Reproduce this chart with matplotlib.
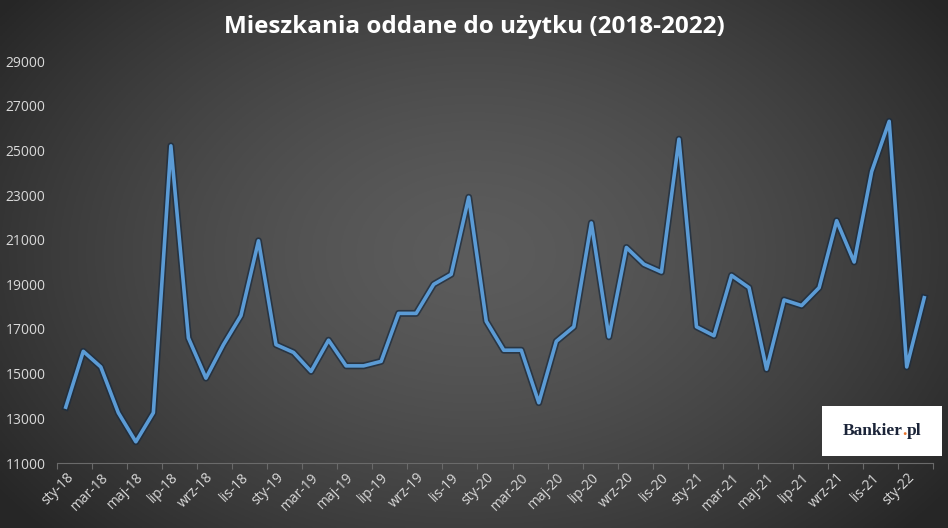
import numpy as np
import matplotlib
matplotlib.use('Agg')
import matplotlib.pyplot as plt
import matplotlib.patheffects as pe
from matplotlib.offsetbox import TextArea, HPacker, AnnotationBbox
from matplotlib.patches import Rectangle

# miesiace (sty-18 ... lut-22)
month_abbr = ['sty', 'lut', 'mar', 'kwi', 'maj', 'cze',
              'lip', 'sie', 'wrz', 'paź', 'lis', 'gru']
years = ['18', '19', '20', '21', '22']
months = [f'{m}-{y}' for y in years for m in month_abbr][:50]

# mieszkania oddane do uzytku
values = [13500, 16000, 15300, 13250, 11950, 13250, 25200, 16600, 14800, 16300,
          17600, 20950, 16300, 15950, 15100, 16500, 15350, 15350, 15550, 17700,
          17700, 19000, 19450, 22900, 17350, 16050, 16050, 13700, 16450, 17100,
          21750, 16650, 20650, 19900, 19550, 25500, 17100, 16700, 19400, 18850,
          15200, 18300, 18050, 18850, 21850, 20000, 24050, 26300, 15300, 18400]

yticks = [11000, 13000, 15000, 17000, 19000, 21000, 23000, 25000, 27000, 29000]

title = 'Mieszkania oddane do użytku (2018-2022)'

W, H = 948, 528
fig = plt.figure(figsize=(W / 100, H / 100), dpi=100)

# tlo - radialny gradient
bg = fig.add_axes([0, 0, 1, 1])
xx, yy = np.meshgrid(np.linspace(0, 1, 400), np.linspace(0, 1, 240))
r = np.sqrt(((xx - 0.5) / 0.62) ** 2 + ((yy - 0.52) / 0.78) ** 2)
g = 0.36 - 0.21 * np.clip(r, 0, 1) ** 1.5
bg.imshow(np.dstack([g, g, g]), extent=[0, 1, 0, 1], aspect='auto', origin='lower')
bg.axis('off')

ax = fig.add_axes([57 / W, 1 - 463 / H, (933 - 57) / W, (463 - 61) / H])
ax.patch.set_alpha(0)
x = np.arange(len(values))
ax.plot(x, values, color='#5b9bd5', lw=2.6, solid_joinstyle='round',
        path_effects=[pe.Stroke(linewidth=5, foreground='#1c2c3e', alpha=0.75,
                                joinstyle='round'),
                      pe.Normal()])

ax.set_xlim(-0.5, len(values) - 0.5)
ax.set_ylim(11000, 29000)

for s in ['top', 'right', 'left']:
    ax.spines[s].set_visible(False)
ax.spines['bottom'].set_color('#6a6a6a')
ax.spines['bottom'].set_linewidth(0.8)

ax.set_yticks(yticks)
ax.set_yticklabels([str(v) for v in yticks])
ax.tick_params(axis='y', length=0, pad=37, labelsize=10, labelcolor='#d9d9d9')
for lab in ax.get_yticklabels():
    lab.set_ha('left')
    lab.set_family('Open Sans')

ax.set_xticks(x[::2])
ax.set_xticklabels(months[::2])
ax.tick_params(axis='x', which='major', length=0, pad=5, labelsize=10,
               labelcolor='#d9d9d9')
ax.set_xticks(np.arange(-0.5, len(values), 2), minor=True)
ax.tick_params(axis='x', which='minor', length=4, color='#6a6a6a', width=0.8)
for lab in ax.get_xticklabels():
    lab.set_rotation(45)
    lab.set_ha('right')
    lab.set_va('top')
    lab.set_rotation_mode('anchor')
    lab.set_family('Open Sans')

fig.text(0.5, 1 - 27 / H, title, ha='center', va='center', color='white',
         fontsize=17.5, fontweight='bold', family='Open Sans')

# logo Bankier.pl
fig.patches.append(Rectangle((822 / W, 1 - 456 / H), 120 / W, 50 / H,
                             transform=fig.transFigure, facecolor='white',
                             edgecolor='none', zorder=5))
tp = dict(color='#1b2438', fontsize=12.5, fontweight='bold', family='Liberation Serif')
logo = HPacker(children=[TextArea('Bankier', textprops=tp),
                         TextArea('.', textprops=dict(tp, color='#e8742c')),
                         TextArea('pl', textprops=tp)],
               pad=0, sep=0, align='baseline')
ab = AnnotationBbox(logo, (882 / W, 1 - 431 / H), xycoords='figure fraction',
                    frameon=False, box_alignment=(0.5, 0.5), zorder=6)
fig.add_artist(ab)

fig.savefig('out.png', dpi=100)
